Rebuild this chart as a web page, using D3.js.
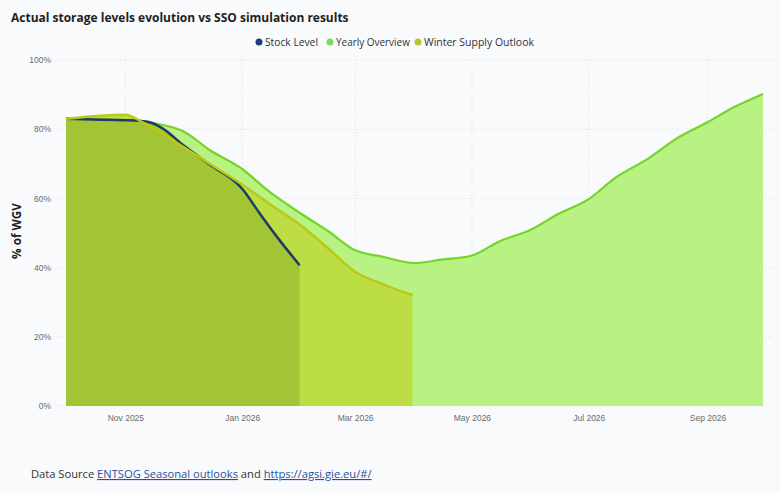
<!DOCTYPE html>
<html>
<head>
<meta charset="utf-8">
<script src="https://cdn.jsdelivr.net/npm/d3@7"></script>
<style>
  body { margin: 0; background: #f8fafc; }
  svg { display: block; font-family: "Open Sans", "Noto Sans", sans-serif; }
</style>
</head>
<body>
<div id="chart"></div>
<script>
var svgWidth = 780;
var svgHeight = 492;

// data (% of WGV)
var stockDates = ["2025-10-01", "2025-10-15", "2025-11-01", "2025-11-12", "2025-11-20", "2025-12-01",
  "2025-12-15", "2026-01-01", "2026-01-10", "2026-01-20", "2026-01-31"];
var stockValues = [83, 82.8, 82.6, 82.2, 80.4, 75.5, 69.8, 62.8, 55.8, 48.3, 40.7];

var yearlyDates = ["2025-10-01", "2025-11-01", "2025-11-20", "2025-12-01", "2025-12-15", "2026-01-01",
  "2026-01-15", "2026-02-01", "2026-02-15", "2026-03-01", "2026-03-15", "2026-04-01", "2026-04-15",
  "2026-05-01", "2026-05-15", "2026-06-01", "2026-06-15", "2026-07-01", "2026-07-15", "2026-08-01",
  "2026-08-15", "2026-09-01", "2026-09-15", "2026-09-30"];
var yearlyValues = [83, 82.6, 81.3, 79.5, 74, 68.5, 62, 55.5, 50.5, 45, 43.2, 41.3, 42.3,
  43.5, 47.5, 51, 55.5, 59.8, 66, 71.5, 77, 82, 86.4, 90.2];

var wsoDates = ["2025-10-01", "2025-11-01", "2025-11-10", "2025-12-01", "2025-12-15", "2026-01-01",
  "2026-01-15", "2026-02-01", "2026-02-15", "2026-03-01", "2026-03-15", "2026-03-31"];
var wsoValues = [83, 84.2, 82, 75, 70, 64, 58.5, 52, 45.5, 38.8, 35.3, 32];

var yTicks = [0, 20, 40, 60, 80, 100];
var xTicks = ["2025-11-01", "2026-01-01", "2026-03-01", "2026-05-01", "2026-07-01", "2026-09-01"];

var parseDate = d3.timeParse("%Y-%m-%d");

function toPoints(dates, values) {
  return dates.map(function(d, i) {
    return { date: parseDate(d), value: values[i] };
  });
}

var stock = toPoints(stockDates, stockValues);
var yearly = toPoints(yearlyDates, yearlyValues);
var wso = toPoints(wsoDates, wsoValues);

var svg = d3.select("#chart")
  .append("svg")
  .attr("width", svgWidth)
  .attr("height", svgHeight);

svg.append("rect")
  .attr("width", svgWidth)
  .attr("height", svgHeight)
  .attr("fill", "#f8fafc");

// scales
var xScale = d3.scaleTime()
  .domain([parseDate("2025-10-01"), parseDate("2026-09-30")])
  .range([66, 763]);

var yScale = d3.scaleLinear()
  .domain([0, 100])
  .range([406, 60]);

// grid
var grid = svg.append("g");
grid.selectAll(".hgrid")
  .data(yTicks)
  .enter()
  .append("line")
  .attr("x1", 57)
  .attr("x2", 772)
  .attr("y1", d => yScale(d))
  .attr("y2", d => yScale(d))
  .attr("stroke", "#dde1e6")
  .attr("stroke-dasharray", "1,2");

grid.selectAll(".vgrid")
  .data(xTicks)
  .enter()
  .append("line")
  .attr("x1", d => xScale(parseDate(d)))
  .attr("x2", d => xScale(parseDate(d)))
  .attr("y1", 60)
  .attr("y2", 406)
  .attr("stroke", "#dde1e6")
  .attr("stroke-dasharray", "1,2");

// axes
var leftAxis = d3.axisLeft(yScale)
  .tickValues(yTicks)
  .tickFormat(d => d + "%")
  .tickSize(0)
  .tickPadding(6);

var bottomAxis = d3.axisBottom(xScale)
  .tickValues(xTicks.map(parseDate))
  .tickFormat(d3.timeFormat("%b %Y"))
  .tickSize(0)
  .tickPadding(9);

var yAxisG = svg.append("g")
  .attr("transform", "translate(57,0)")
  .call(leftAxis);

var xAxisG = svg.append("g")
  .attr("transform", "translate(0,406)")
  .call(bottomAxis);

[yAxisG, xAxisG].forEach(function(g) {
  g.select(".domain").remove();
  g.selectAll("text")
    .attr("fill", "#6b6b6b")
    .style("font-size", "8.5px");
});

// areas and lines
var area = d3.area()
  .x(d => xScale(d.date))
  .y0(yScale(0))
  .y1(d => yScale(d.value))
  .curve(d3.curveMonotoneX);

var line = d3.line()
  .x(d => xScale(d.date))
  .y(d => yScale(d.value))
  .curve(d3.curveMonotoneX);

svg.append("path").datum(yearly).attr("d", area).attr("fill", "#b8f283");
svg.append("path").datum(wso).attr("d", area).attr("fill", "#bcdd44");
svg.append("path").datum(stock).attr("d", area).attr("fill", "#a3c535");

svg.append("path").datum(yearly).attr("d", line)
  .attr("fill", "none").attr("stroke", "#74d42a").attr("stroke-width", 2.2);
svg.append("path").datum(stock).attr("d", line)
  .attr("fill", "none").attr("stroke", "#1f3a68").attr("stroke-width", 2.5);
svg.append("path").datum(wso).attr("d", line)
  .attr("fill", "none").attr("stroke", "#bcc816").attr("stroke-width", 2.5);

// helper to fit text to a width
function fitText(sel, width) {
  var w = sel.node().getComputedTextLength();
  var fs = parseFloat(sel.style("font-size"));
  sel.style("font-size", (fs * width / w) + "px");
}

// title
var title = svg.append("text")
  .attr("x", 11)
  .attr("y", 22)
  .attr("fill", "#222")
  .style("font-size", "14px")
  .style("font-weight", "bold")
  .text("Actual storage levels evolution vs SSO simulation results");
fitText(title, 338);

// y axis title
var yTitle = svg.append("text")
  .attr("transform", "translate(21,231) rotate(-90)")
  .attr("text-anchor", "middle")
  .attr("fill", "#222")
  .style("font-size", "12px")
  .style("font-weight", "bold")
  .text("% of WGV");
fitText(yTitle, 56);

// legend
var legendNames = ["Stock Level", "Yearly Overview", "Winter Supply Outlook"];
var legendColors = ["#1f3d7a", "#7ed957", "#b5c92a"];
var legendX = [259, 330, 418];
var legendW = [53, 74, 110];

var legend = svg.append("g");
legendNames.forEach(function(name, i) {
  legend.append("circle")
    .attr("cx", legendX[i])
    .attr("cy", 42)
    .attr("r", 3.5)
    .attr("fill", legendColors[i]);
  var t = legend.append("text")
    .attr("x", legendX[i] + 6)
    .attr("y", 46)
    .attr("fill", "#333")
    .style("font-size", "11px")
    .text(name);
  fitText(t, legendW[i]);
});

// footer
var footer = svg.append("text")
  .attr("x", 31)
  .attr("y", 478)
  .attr("fill", "#333")
  .style("font-size", "12px");
footer.append("tspan").text("Data Source ");
footer.append("tspan").attr("fill", "#2b4f9e").attr("text-decoration", "underline").text("ENTSOG Seasonal outlooks");
footer.append("tspan").text(" and ");
footer.append("tspan").attr("fill", "#2b4f9e").attr("text-decoration", "underline").text("https://agsi.gie.eu/#/");
fitText(footer, 341);
</script>
</body>
</html>
